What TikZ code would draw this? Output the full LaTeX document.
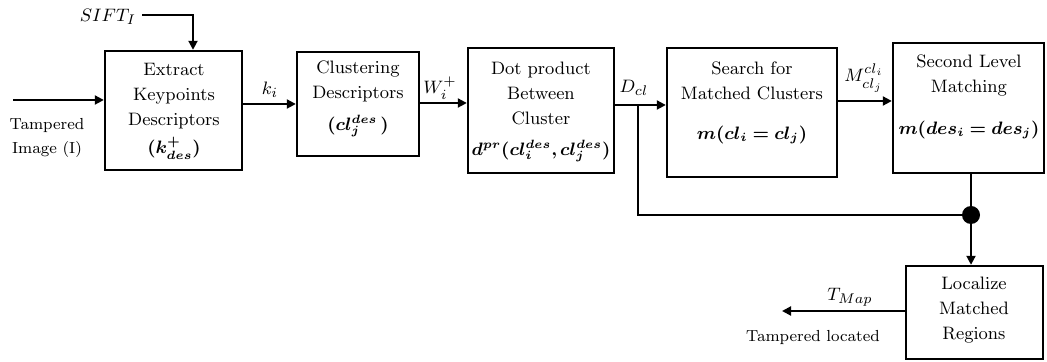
\documentclass[tikz,border=0pt]{standalone}
\usepackage[OT1]{fontenc}
\usepackage{amsmath}
\usepackage{bm}
\usetikzlibrary{arrows.meta}
\newcommand\boxsize{\fontsize{9.1}{12.5}\selectfont}
\newcommand\iosize{\fontsize{8.2}{11}\selectfont}
\begin{document}
\begin{tikzpicture}[x=0.5pt,y=-0.5pt,
  box/.style={draw, line width=1.2pt, inner sep=0pt},
  txt/.style={align=center, font=\boxsize, inner sep=0pt},
  io/.style={align=center, font=\iosize, inner sep=0pt},
  lbl/.style={inner sep=0pt, font=\fontsize{9.5}{12}\selectfont},
  fml/.style={inner sep=0pt, font=\fontsize{8.8}{11}\selectfont},
  flow/.style={line width=1pt, -{Triangle[length=4.5pt,width=4.5pt]}},
  wire/.style={line width=1pt}]
\useasboundingbox (0,0) rectangle (1047,362);

% processing blocks
\node[box, minimum width=68.5pt, minimum height=59.5pt] (b1) at (173.5,110.5) {};
\node[box, minimum width=61pt,   minimum height=52pt]   (b2) at (358,104) {};
\node[box, minimum width=73pt,   minimum height=62.5pt] (b3) at (541,110.5) {};
\node[box, minimum width=85pt,   minimum height=64.5pt] (b4) at (752,112.5) {};
\node[box, minimum width=75.5pt, minimum height=65pt]   (b5) at (968.5,108) {};
\node[box, minimum width=68.5pt, minimum height=46.5pt] (b6) at (974.5,312.5) {};

% block texts
\node[txt] (t1) at (174,96) {Extract\\Keypoints\\Descriptors};
\node[fml] (f1) at (174,148) {$\bm{(k^{+}_{des})}$};
\node[txt] (t2) at (358,82) {Clustering\\Descriptors};
\node[fml] (f2) at (358,126) {$\bm{(cl^{des}_{j}\,)}$};
\node[txt] (t3) at (541,93) {Dot product\\Between\\Cluster};
\node[fml] (f3) at (541,151) {$\bm{d^{pr}(cl^{des}_{i},cl^{des}_{j})}$};
\node[txt] (t4) at (752,80.5) {Search for\\Matched Clusters};
\node[fml] (f4) at (752,135) {$\bm{m(cl_{i}=cl_{j})}$};
\node[txt] (t5) at (969,76) {Second Level\\Matching};
\node[fml] (f5) at (969,130) {$\bm{m(des_{i}=des_{j})}$};
\node[txt] (t6) at (974,310) {Localize\\Matched\\Regions};

% input and output texts
\node[io] (tin) at (47,138) {Tampered\\[1pt]Image (I)};
\node[io] (tout) at (813,338) {Tampered located};

% connector labels
\node[lbl] (sift) at (108,17) {$SIFT_{I}$};
\node[lbl] (lk) at (270,90) {$k_{i}$};
\node[lbl] (lw) at (440,88) {$W_{i}^{+}$};
\node[lbl] (ld) at (634,88) {$D_{cl}$};
\node[lbl] (lm) at (864,78) {$M_{cl_{j}}^{cl_{i}}$};
\node[lbl] (lt) at (850,297) {$T_{Map}$};

% helper points
\coordinate (in0) at (13,100);
\coordinate (s0) at (142,15);
\coordinate (s1) at (193,15);
\coordinate (r1) at (0,104);
\coordinate (r2) at (0,103);
\coordinate (r3) at (0,105);
\coordinate (r4) at (0,101);
\coordinate (d0) at (638,105);
\coordinate (j) at (971,215);
\coordinate (tout0) at (782,311);

% connectors
\draw[flow] (in0) -- (in0 -| b1.west);
\draw[flow] (s0) -- (s1) -- (b1.north -| s1);
\draw[flow] (b1.east |- r1) -- (b2.west |- r1);
\draw[flow] (b2.east |- r2) -- (b3.west |- r2);
\draw[flow] (b3.east |- r3) -- (b4.west |- r3);
\draw[flow] (b4.east |- r4) -- (b5.west |- r4);
\draw[wire] (d0) -- (d0 |- j) -- (j);
\draw[wire] (b5.south -| j) -- (j);
\draw[flow] (j) -- (b6.north -| j);
\draw[flow] (b6.west |- tout0) -- (tout0);
\fill (j) circle (4.5pt);
\end{tikzpicture}
\end{document}
